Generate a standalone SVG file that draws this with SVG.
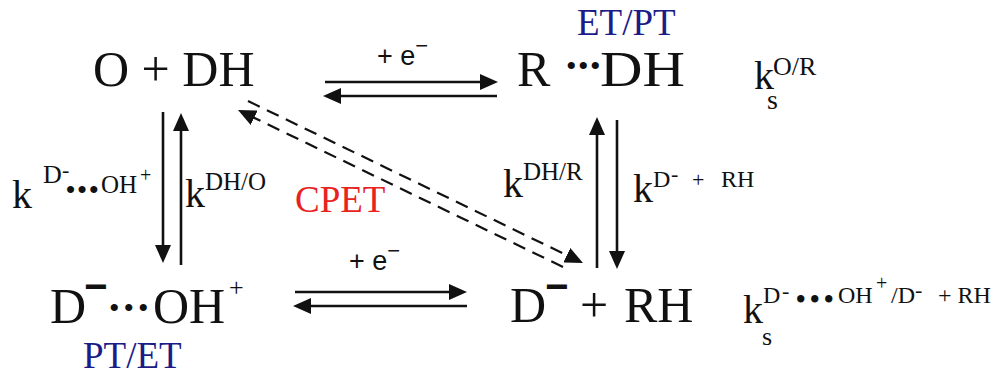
<svg xmlns="http://www.w3.org/2000/svg" width="999" height="376" viewBox="0 0 999 376">
<style>
text { font-family: "Liberation Serif", "Times New Roman", serif; fill: #111; }
.big { font-size: 50px; }
.k { font-size: 40px; }
.sans { font-family: "Liberation Sans", Arial, sans-serif; font-size: 27px; }
.bar { font-family: "Liberation Sans", Arial, sans-serif; font-weight: bold; font-size: 40px; }
.blue { fill: #1c1c88; font-size: 37px; }
.red { fill: #e8231f; font-size: 37px; }
.line { stroke: #111; stroke-width: 2.6; fill: none; }
.dash { stroke: #111; stroke-width: 2.2; fill: none; stroke-dasharray: 13 8; }
</style>
<defs>
<marker id="ah" viewBox="0 0 18 16" refX="12" refY="8" markerWidth="18" markerHeight="16" markerUnits="userSpaceOnUse" orient="auto">
<path d="M0,0 L18,8 L0,16 z" fill="#111"/>
</marker>
</defs>
<rect width="999" height="376" fill="#fff"/>
<g id="connectors">
<path class="line" d="M325,82 L492,82" marker-end="url(#ah)"/>
<path class="line" d="M497,96 L329,96" marker-end="url(#ah)"/>
<path class="line" d="M295,292 L461,292" marker-end="url(#ah)"/>
<path class="line" d="M467,306 L299,306" marker-end="url(#ah)"/>
<path class="line" d="M163,112 L163,257" marker-end="url(#ah)"/>
<path class="line" d="M181,265 L181,119" marker-end="url(#ah)"/>
<path class="line" d="M597,268 L597,123" marker-end="url(#ah)"/>
<path class="line" d="M617,120 L617,263" marker-end="url(#ah)"/>
<path class="dash" d="M248,101 L577.6,260.4" marker-end="url(#ah)"/>
<path class="dash" d="M563,267 L243.4,112.6" marker-end="url(#ah)"/>
<text class="sans" x="377" y="65">+ e<tspan dy="-12" font-size="22">−</tspan></text>
<text class="sans" x="349" y="270">+ e<tspan dy="-12" font-size="22">−</tspan></text>
<text class="red" x="295" y="212">CPET</text>
<text class="k" x="12" y="208">k<tspan x="43" y="183" font-size="26">D</tspan><tspan x="62" y="177" font-size="22">-</tspan><tspan x="66" y="198" font-size="26" font-weight="bold" letter-spacing="2.5">•••</tspan><tspan x="101" y="193" font-size="25">OH</tspan><tspan x="140" y="182" font-size="20">+</tspan></text>
<text class="k" x="185" y="207">k<tspan x="205" y="190" font-size="25">DH/O</tspan></text>
<text class="k" x="503" y="197">k<tspan x="523" y="180" font-size="25">DH/R</tspan></text>
<text class="k" x="633" y="202">k<tspan x="653" y="187" font-size="24">D</tspan><tspan x="671" y="181" font-size="22">-</tspan><tspan x="692" y="187" font-size="22">+</tspan><tspan x="721" y="187" font-size="24">RH</tspan></text>
</g>
<g id="node-O-DH">
<text class="big" x="93" y="86">O + DH</text>
</g>
<g id="node-R-DH">
<text class="blue" x="577" y="35">ET/PT</text>
<text class="big" x="517" y="86">R<tspan x="566" y="76" font-size="30" letter-spacing="1.5">•••</tspan><tspan x="600" y="86" textLength="85" lengthAdjust="spacingAndGlyphs">DH</tspan></text>
<text class="k" x="754" y="89">k<tspan x="767" y="109" font-size="28">s</tspan><tspan x="773" y="75" font-size="26">O/R</tspan></text>
</g>
<g id="node-D-OH">
<text class="big" x="50" y="323">D<tspan class="bar" x="84" y="300">−</tspan><tspan x="109" y="318" font-size="30" letter-spacing="4">•••</tspan><tspan x="153" y="323">OH</tspan><tspan x="229" y="296" font-size="26">+</tspan></text>
<text class="blue" x="83" y="368">PT/ET</text>
</g>
<g id="node-D-RH">
<text class="big" x="510" y="322">D<tspan class="bar" x="545" y="300">−</tspan><tspan x="580" y="322">+</tspan><tspan x="624" y="322">RH</tspan></text>
<text class="k" x="743" y="323">k<tspan x="762" y="345" font-size="26">s</tspan><tspan x="763" y="303" font-size="24">D</tspan><tspan x="782" y="298" font-size="22">-</tspan><tspan x="796" y="308" font-size="27" font-weight="bold" letter-spacing="4.5">•••</tspan><tspan x="838" y="303" font-size="24">OH</tspan><tspan x="876" y="290" font-size="20">+</tspan><tspan x="891" y="303" font-size="24">/D</tspan><tspan x="915" y="297" font-size="22">-</tspan><tspan x="938" y="303" font-size="24">+ RH</tspan></text>
</g>
</svg>
